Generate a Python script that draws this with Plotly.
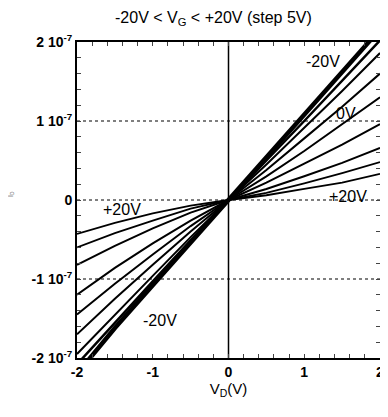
import plotly.graph_objects as go

# Drain voltage (V)
vd = [-2.0, -1.5, -1.0, -0.5, 0.0, 0.5, 1.0, 1.5, 2.0]
# Gate voltages (V)
vg = [-20, -15, -10, -5, 0, 5, 10, 15, 20]
# Drain current in units of 1e-7 A, one list per gate voltage
id_m20 = [-2.20, -1.62, -1.08, -0.54, 0.0, 0.54, 1.08, 1.62, 2.16]
id_m15 = [-2.08, -1.55, -1.03, -0.51, 0.0, 0.50, 1.00, 1.51, 2.02]
id_m10 = [-1.95, -1.45, -0.96, -0.47, 0.0, 0.45, 0.91, 1.38, 1.86]
id_m5 = [-1.70, -1.25, -0.82, -0.40, 0.0, 0.38, 0.78, 1.18, 1.60]
id_0 = [-1.45, -1.06, -0.69, -0.33, 0.0, 0.30, 0.62, 0.96, 1.30]
id_p5 = [-1.20, -0.86, -0.55, -0.26, 0.0, 0.22, 0.46, 0.70, 0.96]
id_p10 = [-0.82, -0.58, -0.36, -0.16, 0.0, 0.14, 0.30, 0.47, 0.66]
id_p15 = [-0.60, -0.42, -0.26, -0.11, 0.0, 0.09, 0.21, 0.34, 0.48]
id_p20 = [-0.43, -0.29, -0.17, -0.07, 0.0, 0.06, 0.14, 0.22, 0.33]
curves = [id_m20, id_m15, id_m10, id_m5, id_0, id_p5, id_p10, id_p15, id_p20]
widths = [4.5, 2.5, 2, 2, 2, 2, 2, 1.8, 1.8]

x_tickvals = [-2, -1, 0, 1, 2]
x_ticktext = ["-2", "-1", "0", "1", "2"]
y_tickvals = [-2, -1, 0, 1, 2]
y_ticktext = ["-2 10<sup>-7</sup>", "-1 10<sup>-7</sup>", "0", "1 10<sup>-7</sup>", "2 10<sup>-7</sup>"]

fig = go.Figure()
for g, c, w in zip(vg, curves, widths):
    fig.add_trace(go.Scatter(x=vd, y=c, mode="lines", name=f"{g}V",
                             line=dict(color="black", width=w), showlegend=False))

# grid lines
for yv in [1, 0, -1]:
    fig.add_shape(type="line", xref="paper", yref="y", x0=0, x1=1, y0=yv, y1=yv,
                  line=dict(color="black", width=1.2, dash="dot"), layer="below")
fig.add_shape(type="line", xref="x", yref="paper", x0=0, x1=0, y0=0, y1=1,
              line=dict(color="black", width=1.5), layer="below")

font_b = dict(family="Liberation Sans, Arial", size=14, color="black", weight="bold")

# ticks every 0.2 with labels only at integers
xt = [round(-2 + 0.2 * i, 1) for i in range(21)]
xtt = [x_ticktext[x_tickvals.index(int(round(v)))] if abs(v - round(v)) < 1e-9 else "" for v in xt]
ytt = [y_ticktext[y_tickvals.index(int(round(v)))] if abs(v - round(v)) < 1e-9 else "" for v in xt]

fig.update_xaxes(range=[-2, 2], tickvals=xt, ticktext=xtt, ticks="inside", ticklen=4,
                 showline=True, linecolor="black", linewidth=2, mirror="ticks",
                 showgrid=False, zeroline=False, tickfont=font_b, ticklabeloverflow="allow",
                 title=dict(text="V<sub>D</sub>(V)", font=dict(family="Liberation Sans, Arial", size=15, color="black"), standoff=4))
fig.update_yaxes(range=[-2, 2], tickvals=xt, ticktext=ytt, ticks="inside", ticklen=4,
                 showline=True, linecolor="black", linewidth=2, mirror="ticks",
                 showgrid=False, zeroline=False, tickfont=font_b, ticklabeloverflow="allow")

ann = [
    ("-20V", 1.25, 1.75),
    ("0V", 1.55, 1.1),
    ("+20V", 1.58, 0.05),
    ("+20V", -1.4, -0.12),
    ("-20V", -0.9, -1.52),
]
for t, x, y in ann:
    fig.add_annotation(x=x, y=y, text=t, showarrow=False,
                       font=dict(family="Liberation Sans, Arial", size=16, color="black"))

fig.add_annotation(xref="paper", yref="paper", x=0.45, y=1.0, yshift=12, yanchor="bottom",
                   text="-20V < V<sub>G</sub> < +20V (step 5V)", showarrow=False,
                   font=dict(family="Liberation Sans, Arial", size=16, color="black"))
fig.add_annotation(xref="paper", yref="paper", x=-0.22, y=0.52, xanchor="center",
                   text="I<sub>D</sub>", textangle=-90, showarrow=False,
                   font=dict(family="Liberation Sans, Arial", size=7, color="#555"))

# page body has an 8px margin, so the figure is sized to fit the 388x417 window
fig.update_layout(width=380, height=409, margin=dict(l=69, r=4, t=34, b=59),
                  plot_bgcolor="white", paper_bgcolor="white")
fig.write_html("out.html")
